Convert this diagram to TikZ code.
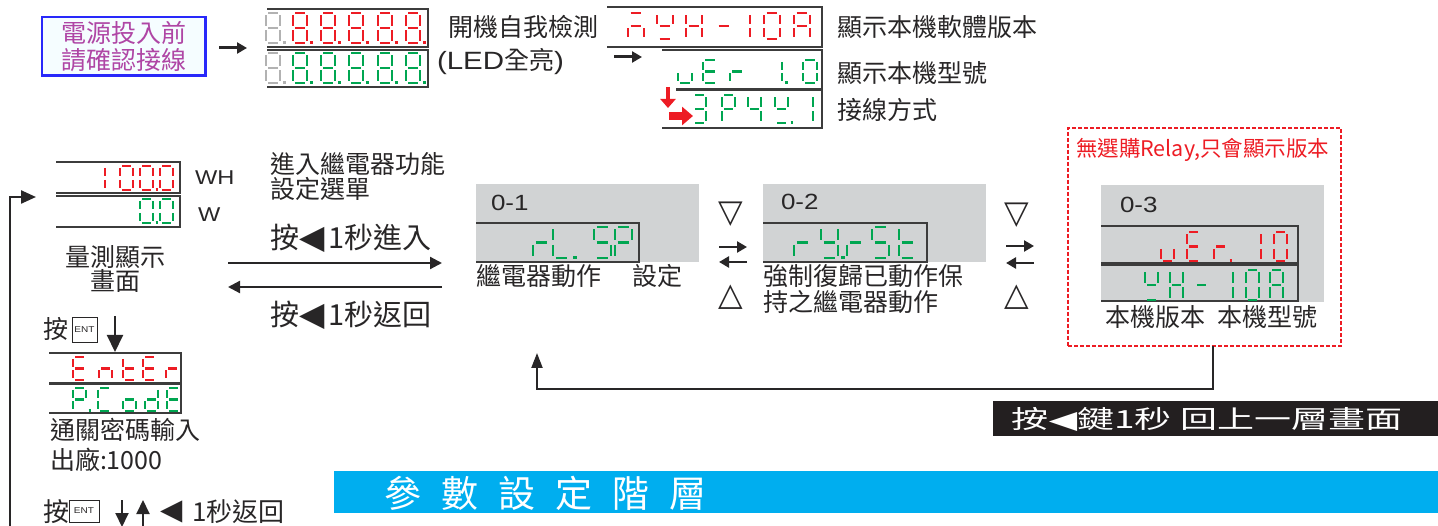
\documentclass[tikz,border=0pt]{standalone}
\usepackage{fontspec}
\usepackage{graphicx}
\setmainfont{Noto Sans CJK TC}
\newfontfamily\lat[FakeStretch=1.18]{Liberation Sans}
\newfontfamily\dv{DejaVu Sans}
\usetikzlibrary{arrows.meta}
\definecolor{ledred}{RGB}{237,28,36}
\definecolor{ledgreen}{RGB}{0,166,81}
\definecolor{ledgray}{RGB}{178,178,178}
\definecolor{txt}{RGB}{40,38,39}
\definecolor{framec}{RGB}{60,60,60}
\definecolor{panelgray}{RGB}{209,211,212}
\definecolor{magtext}{RGB}{175,70,165}
\definecolor{boxblue}{RGB}{40,40,250}
\definecolor{boxfill}{RGB}{245,253,255}
\definecolor{bannerblue}{RGB}{0,174,239}
\definecolor{blackbox}{RGB}{35,31,32}
\newcommand\fsz[1]{\fontsize{#1}{#1}\selectfont}
\def\LSa{(0.17,0)--(0.83,0)}
\def\LSb{(1,0.08)--(1,0.42)}
\def\LSc{(1,0.58)--(1,0.92)}
\def\LSd{(0.17,1)--(0.83,1)}
\def\LSe{(0,0.58)--(0,0.92)}
\def\LSf{(0,0.08)--(0,0.42)}
\def\LSg{(0.17,0.5)--(0.83,0.5)}
\def\LSp{(1.2,0.97)--(1.4,0.97)}
\newcommand\led[6]{\begin{scope}[shift={(#1,#2)},xscale=#3,yscale=#4]\foreach \s in {#6}{\draw[ledseg,#5] \csname LS\s\endcsname;}\end{scope}}
\begin{document}
\begin{tikzpicture}[x=1pt,y=-1pt,
  every node/.style={inner sep=0pt,outer sep=0pt,text=txt,font=\fsz{25}},
  lbl/.style={anchor=west},
  frame/.style={draw=framec,line width=1.6pt},
  ledseg/.style={line width=2.9pt},
  small/.style={line width=2.5pt},
  arr/.style={draw=txt,line width=2.2pt,-{Triangle[length=12pt,width=12pt]}},
  smallarr/.style={draw=txt,line width=2.6pt,-{Triangle[length=10pt,width=11pt]}},
  tri/.style={font=\dv\fsz{32}},
  entbox/.style={draw=txt,line width=1pt,font=\lat\fsz{8.5}},
  panel/.style={fill=panelgray,anchor=north west}]
\useasboundingbox (0,0) rectangle (1438,526);

% ---------------- top row ----------------
\node[draw=boxblue,line width=2.5pt,fill=boxfill,minimum width=163.5,minimum height=58.5,
      align=center,text=magtext,font=\fontsize{25}{27}\selectfont] (pwr) at (123.7,46.2) {電源投入前\\請確認接線};
\coordinate (a1s) at (219,48); \coordinate (a1e) at (247,48);
\draw[smallarr,line width=3pt] (a1s) -- (a1e);

\draw[frame] (267,9) -| (428,47) -- (267,47);
\draw[frame] (267,50) -| (428,87) -- (267,87);
\led{266}{13}{14}{30}{ledgray}{a,b,c,d,e,f,g,p}
\led{266}{53}{14}{30}{ledgray}{a,b,c,d,e,f,g,p}
\foreach \xx in {293,321,349,378,406}{
  \led{\xx}{13}{14}{30}{ledred}{a,b,c,d,e,f,g,p}
  \led{\xx}{53}{14}{30}{ledgreen}{a,b,c,d,e,f,g,p}
}
\node[lbl] (selftest) at (448,27) {開機自我檢測};
\node[lbl] (ledall) at (437,62) {{\lat (LED}全亮{\lat )}};
\coordinate (a2s) at (614,57); \coordinate (a2e) at (642,57);
\draw[smallarr,line width=3pt] (a2s) -- (a2e);

% display B
\draw[frame] (607,7) -| (822,47) -- (607,47);
\led{628}{13}{16}{26}{ledred}{a,c,e,g}
\led{657}{13}{16}{26}{ledred}{b,f,g,d}
\led{686}{13}{16}{26}{ledred}{b,c,e,f,g}
\led{716}{13}{16}{26}{ledred}{g}
\led{734}{13}{16}{26}{ledred}{b,c}
\led{764}{13}{16}{26}{ledred}{a,b,c,d,e,f}
\led{794}{13}{16}{26}{ledred}{a,b,c,e,f,g}
\node[lbl] (swver) at (837,27) {顯示本機軟體版本};
% display C
\draw[frame] (662,50) -| (822,89) -- (676,89);
\led{678}{60}{14}{23}{ledgreen,small}{c,d,e}
\led{703}{60}{14}{23}{ledgreen,small}{a,d,e,f,g}
\led{730}{60}{14}{23}{ledgreen,small}{e,g}
\led{768}{60}{14}{23}{ledgreen,small}{b,c,p}
\led{803}{60}{14}{23}{ledgreen,small}{a,b,c,d,e,f}
\node[lbl] (model) at (837,73) {顯示本機型號};
% display D
\draw[frame] (676,90) -| (822,128) -- (662,128);
\led{693}{95}{13}{28}{ledgreen}{a,b,c,d,g}
\led{722}{95}{13}{28}{ledgreen}{a,b,e,f,g}
\led{748}{95}{13}{28}{ledgreen}{b,c,f,g}
\led{775}{95}{13}{28}{ledgreen}{b,f,g,d,p}
\led{800}{95}{13}{28}{ledgreen}{b,c}
\node[lbl] (wiring) at (837,110) {接線方式};
\coordinate (rd1) at (668,87); \coordinate (rd2) at (668,108);
\draw[draw=ledred,line width=4pt,-{Triangle[length=9pt,width=15pt]}] (rd1) -- (rd2);
\coordinate (rr1) at (669,116); \coordinate (rr2) at (693,116);
\draw[draw=ledred,line width=8pt,-{Triangle[length=11pt,width=18pt]}] (rr1) -- (rr2);

% ---------------- measurement ----------------
\coordinate (loopb) at (10,532); \coordinate (loopc) at (10,197); \coordinate (loope) at (36,197);
\draw[draw=txt,line width=2.4pt,-{Triangle[length=15pt,width=13pt]}] (loopb) -- (loopc) -- (loope);
\draw[frame] (56,162) -| (180,193) -- (56,193);
\draw[frame] (56,196) -| (180,227) -- (56,227);
\led{92}{166}{13}{24}{ledred,small}{b,c}
\led{120}{166}{13}{24}{ledred,small}{a,b,c,d,e,f}
\led{140}{166}{13}{24}{ledred,small}{a,b,c,d,e,f,p}
\led{160}{166}{13}{24}{ledred,small}{a,b,c,d,e,f}
\led{140}{199}{13}{24}{ledgreen,small}{a,b,c,d,e,f,p}
\led{160}{199}{13}{24}{ledgreen,small}{a,b,c,d,e,f}
\node[lbl,font=\lat\fsz{20}] (wh) at (195,178) {WH};
\node[lbl,font=\lat\fsz{20}] (w) at (198,215) {W};
\node[align=center,font=\fontsize{25}{24}\selectfont] (meas) at (115,269) {量測顯示\\畫面};

\node[lbl,align=left,font=\fontsize{25}{23}\selectfont] (enterfn) at (270,176.5) {進入繼電器功能\\設定選單};
\node[lbl,font=\fsz{29}] (press1) at (270,238) {按{\dv\fsz{33}◀}\hspace{4pt}1秒進入};
\coordinate (g1) at (228,263); \coordinate (g2) at (442,263);
\coordinate (b1) at (442,287); \coordinate (b2) at (228,287);
\draw[arr] (g1) -- (g2);
\draw[arr] (b1) -- (b2);
\node[lbl,font=\fsz{29}] (press2) at (270,315) {按{\dv\fsz{33}◀}\hspace{4pt}1秒返回};

% ---------------- relay panels ----------------
\node[panel,minimum width=223,minimum height=78] (p1) at (476,184) {};
\node[lbl,font=\lat\fsz{22}] (l01) at (491,203) {0-1};
\draw[frame] (476,223) -| (639,262) -- (476,262);
\led{533}{227}{17}{31}{ledgreen}{e,g}
\led{553}{227}{17}{31}{ledgreen}{d,e,f,p}
\led{594}{227}{17}{31}{ledgreen}{a,c,d,f,g}
\led{615}{227}{17}{31}{ledgreen}{a,b,e,f,g}
\node[lbl] (c01) at (476,276) {繼電器動作\hspace{31pt}設定};

\node[tri] (dn1) at (731,214) {▽};
\coordinate (x1a) at (719,247); \coordinate (x1b) at (747,247);
\coordinate (x1c) at (747,262); \coordinate (x1d) at (719,262);
\draw[smallarr] (x1a) -- (x1b);
\draw[smallarr] (x1c) -- (x1d);
\node[tri] (up1) at (731,297) {△};

\node[panel,minimum width=223,minimum height=78] (p2) at (763,184) {};
\node[lbl,font=\lat\fsz{22}] (l02) at (781,202) {0-2};
\draw[frame] (763,223) -| (927,262) -- (763,262);
\led{794}{227}{17}{31}{ledgreen}{e,g}
\led{821}{227}{17}{31}{ledgreen}{b,c,d,f,g,p}
\led{847}{227}{17}{31}{ledgreen}{e,g}
\led{872}{227}{17}{31}{ledgreen}{a,c,d,f,g}
\led{899}{227}{17}{31}{ledgreen}{d,e,f,g}
\node[lbl,align=left,font=\fontsize{25}{26}\selectfont] (c02) at (763,289) {強制復歸已動作保\\持之繼電器動作};

\node[tri] (dn2) at (1017,215) {▽};
\coordinate (x2a) at (1006,246); \coordinate (x2b) at (1034,246);
\coordinate (x2c) at (1034,263); \coordinate (x2d) at (1006,263);
\draw[smallarr] (x2a) -- (x2b);
\draw[smallarr] (x2c) -- (x2d);
\node[tri] (up2) at (1017,297) {△};

\node[draw=ledred,line width=2pt,dash pattern=on 4pt off 2pt,anchor=north west,
      minimum width=273,minimum height=218] (dashbox) at (1068,128) {};
\node[lbl,text=ledred,font=\fsz{21.5}] (noopt) at (1076,150) {無選購Relay,只會顯示版本};
\node[panel,minimum width=223,minimum height=117] (p3) at (1101,185) {};
\node[lbl,font=\lat\fsz{22}] (l03) at (1120,205) {0-3};
\draw[frame] (1101,226) -| (1298,263) -- (1101,263);
\draw[frame] (1101,265) -| (1298,301) -- (1101,301);
\led{1161}{232}{13}{29}{ledred}{c,d,e}
\led{1187}{232}{13}{29}{ledred}{a,d,e,f,g}
\led{1214}{232}{13}{29}{ledred}{e,g,p}
\led{1248}{232}{13}{29}{ledred}{b,c}
\led{1274}{232}{13}{29}{ledred}{a,b,c,d,e,f}
\led{1145}{270}{13}{30}{ledgreen}{b,f,g,d}
\led{1170}{270}{13}{30}{ledgreen}{b,c,e,f,g}
\led{1195}{270}{13}{30}{ledgreen}{g}
\led{1220}{270}{13}{30}{ledgreen}{b,c}
\led{1246}{270}{13}{30}{ledgreen}{a,b,c,d,e,f}
\led{1270}{270}{13}{30}{ledgreen}{a,b,c,e,f,g}
\node[lbl] (c03) at (1105,317) {本機版本\hspace{12pt}本機型號};

% return arrow
\coordinate (r1) at (1213,389); \coordinate (r2) at (537,389); \coordinate (r3) at (537,353);
\draw[draw=txt,line width=2.2pt,-{Triangle[length=15pt,width=11pt]}] (r1 |- dashbox.south) -- (r1) -- (r2) -- (r3);

\node[fill=blackbox,anchor=north west,minimum width=450,minimum height=35] (blk) at (993,401) {};
\node[text=white,font=\fsz{25}] (blktxt) at (1207,419) {\scalebox{1.48}[1]{按{\dv ◀}鍵1秒 回上一層畫面}};

% ---------------- password ----------------
\node[lbl] (pressent) at (43,329) {按};
\node[entbox,minimum width=25,minimum height=25] (ent1) at (84.5,330) {ENT};
\coordinate (e1) at (115,316); \coordinate (e2) at (115,352);
\draw[draw=txt,line width=2pt,-{Triangle[length=17pt,width=16pt]}] (e1) -- (e2);
\draw[frame] (49,353) -| (181,383) -- (49,383);
\draw[frame] (49,384) -| (181,413) -- (49,413);
\led{73}{357}{13}{23}{ledred,small}{a,d,e,f,g}
\led{99}{357}{13}{23}{ledred,small}{c,e,g}
\led{123}{357}{13}{23}{ledred,small}{d,e,f,g}
\led{143}{357}{13}{23}{ledred,small}{a,d,e,f,g}
\led{166}{357}{13}{23}{ledred,small}{e,g}
\led{73}{388}{13}{23}{ledgreen,small}{a,b,e,f,g,p}
\led{98}{388}{13}{23}{ledgreen,small}{a,d,e,f}
\led{123}{388}{13}{23}{ledgreen,small}{c,d,e,g}
\led{145}{388}{13}{23}{ledgreen,small}{b,c,d,e,g}
\led{167}{388}{13}{23}{ledgreen,small}{a,d,e,f,g}
\node[lbl] (pwd) at (50,430) {通關密碼輸入};
\node[lbl] (factory) at (50,460) {出廠:1000};

\node[lbl,font=\fsz{26}] (press3) at (43,512) {按};
\node[entbox,minimum width=30,minimum height=22] (ent2) at (84,511) {ENT};
\coordinate (d1) at (122,500); \coordinate (d2) at (122,527);
\coordinate (u1) at (143,530); \coordinate (u2) at (143,500);
\draw[draw=txt,line width=2pt,-{Triangle[length=14pt,width=13pt]}] (d1) -- (d2);
\draw[draw=txt,line width=2pt,-{Triangle[length=14pt,width=13pt]}] (u1) -- (u2);
\node[lbl,font=\dv\fsz{29}] (tri3) at (160,512) {◀};
\node[lbl,font=\fsz{26}] (back3) at (192,512) {1秒返回};

% ---------------- banner ----------------
\node[fill=bannerblue,anchor=north west,minimum width=1110,minimum height=42] (banner) at (334,471) {};
\node[text=white,font=\fsz{37}] (bantxt) at (545.5,493) {參\hspace{20pt}數\hspace{20pt}設\hspace{20pt}定\hspace{20pt}階\hspace{20pt}層};
\end{tikzpicture}
\end{document}
